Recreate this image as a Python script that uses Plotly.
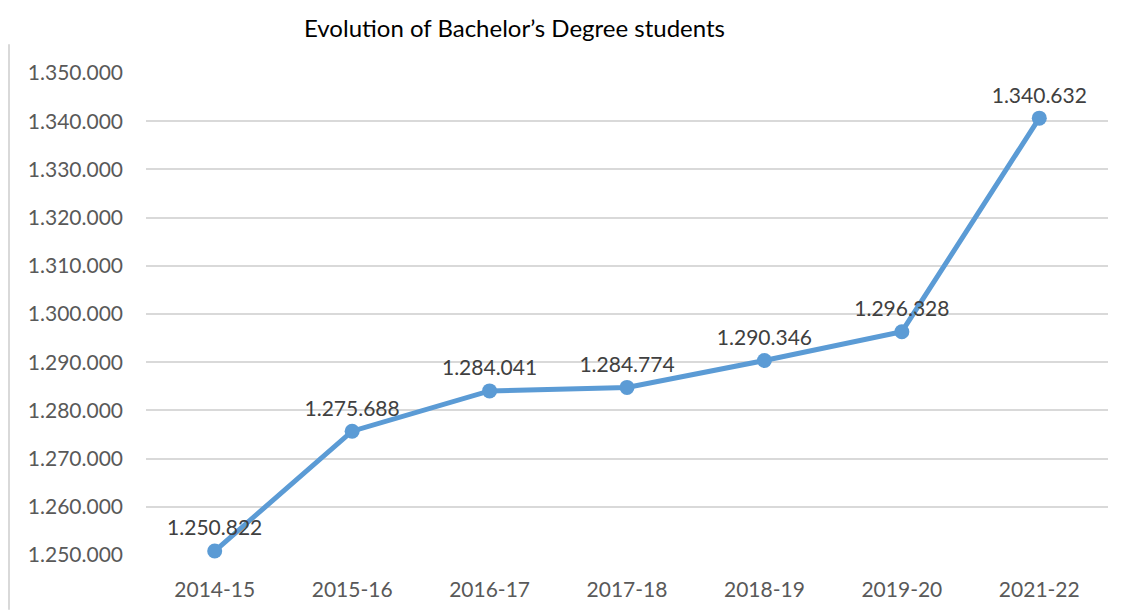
import plotly.graph_objects as go

years = ["2014-15", "2015-16", "2016-17", "2017-18", "2018-19", "2019-20", "2021-22"]
students = [1250822, 1275688, 1284041, 1284774, 1290346, 1296328, 1340632]
y_ticks = [1250000, 1260000, 1270000, 1280000, 1290000, 1300000,
           1310000, 1320000, 1330000, 1340000, 1350000]

# the page body adds an 8px margin, so everything is laid out 8px up/left
OFF = 8
W, H = 1124 - OFF, 613 - OFF
L, R, T, B = 146 - OFF, 16, 73 - OFF, 55
pw = W - L - R
ph = H - T - B

fig = go.Figure(go.Scatter(
    x=years, y=students,
    mode="lines+markers+text",
    line=dict(color="#5b9bd5", width=5),
    marker=dict(color="#5b9bd5", size=15),
    texttemplate="%{y:,d}",
    textposition="top center",
    textfont=dict(family="Lato", size=21, color="#404040"),
    cliponaxis=False,
    hoverinfo="skip",
))

fig.update_layout(
    width=W, height=H,
    margin=dict(l=L, r=R, t=T, b=B),
    plot_bgcolor="white", paper_bgcolor="white",
    separators=",.",
    showlegend=False,
    font=dict(family="Lato", color="#595959"),
    annotations=[dict(
        text="Evolution of Bachelor’s Degree students",
        x=(514 - OFF - L) / pw, xref="paper", xanchor="center",
        y=1 + (T - (27 - OFF)) / ph, yref="paper", yanchor="middle",
        showarrow=False, font=dict(family="Lato", size=24, color="#000000"),
    )],
    shapes=[dict(
        type="line", xref="paper", yref="paper",
        x0=(9 - OFF - L) / pw, x1=(9 - OFF - L) / pw,
        y0=1 + (T - (44 - OFF)) / ph, y1=-B / ph,
        line=dict(color="#d9d9d9", width=2),
    )],
)

fig.update_xaxes(
    type="category", range=[-0.5, 6.5],
    showgrid=False, showline=False, zeroline=False, ticks="",
    tickfont=dict(family="Lato", size=21, color="#595959"),
    ticklabelstandoff=20,
)
fig.update_yaxes(
    range=[1250000, 1350000],
    tickvals=y_ticks, tickformat=",d",
    showgrid=True, gridcolor="#d9d9d9", gridwidth=1.5,
    zeroline=False, showline=False, ticks="",
    tickfont=dict(family="Lato", size=21, color="#595959"),
    ticklabelstandoff=22,
)

fig.write_html("out.html")
